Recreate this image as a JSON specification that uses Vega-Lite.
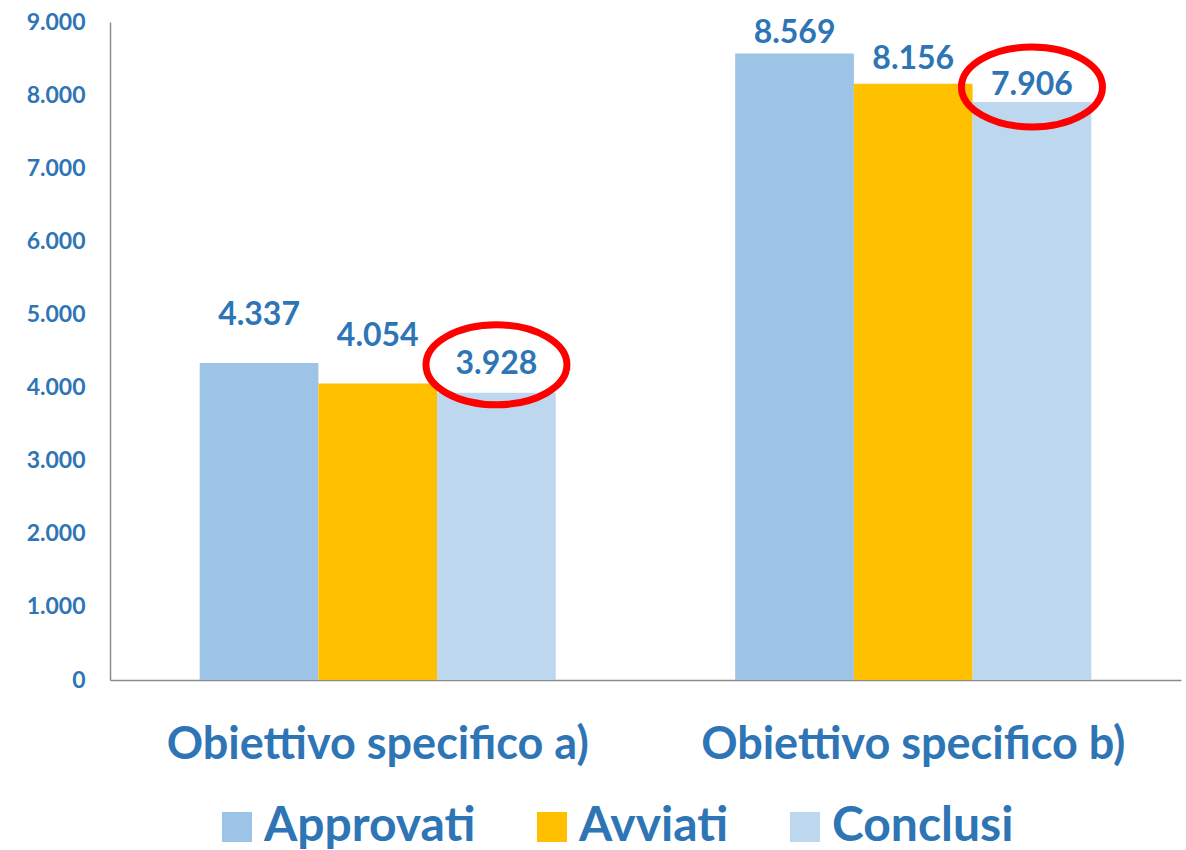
{
  "$schema": "https://vega.github.io/schema/vega-lite/v6.json",
  "autosize": "none",
  "padding": {"left": 110, "top": 22, "right": 5, "bottom": 170},
  "width": 1071,
  "height": 658,
  "background": "white",
  "config": {
    "view": {"stroke": null},
    "font": "Lato"
  },
  "data": {
    "values": [
      {"group": "Obiettivo specifico a)", "series": "Approvati", "value": 4337, "label": "4.337"},
      {"group": "Obiettivo specifico a)", "series": "Avviati", "value": 4054, "label": "4.054"},
      {"group": "Obiettivo specifico a)", "series": "Conclusi", "value": 3928, "label": "3.928"},
      {"group": "Obiettivo specifico b)", "series": "Approvati", "value": 8569, "label": "8.569"},
      {"group": "Obiettivo specifico b)", "series": "Avviati", "value": 8156, "label": "8.156"},
      {"group": "Obiettivo specifico b)", "series": "Conclusi", "value": 7906, "label": "7.906"}
    ]
  },
  "encoding": {
    "x": {
      "field": "group",
      "type": "nominal",
      "sort": null,
      "scale": {"paddingInner": 0.335, "paddingOuter": 0.1675},
      "axis": {
        "title": null,
        "labelAngle": 0,
        "ticks": false,
        "labelPadding": 42,
        "labelFont": "Lato",
        "labelFontWeight": "bold",
        "labelFontSize": 45,
        "labelColor": "#2E75B6",
        "labelLimit": 600,
        "domainColor": "#8C8C8C",
        "domainWidth": 1.5
      }
    },
    "xOffset": {
      "field": "series",
      "type": "nominal",
      "sort": ["Approvati", "Avviati", "Conclusi"],
      "scale": {"paddingInner": 0, "paddingOuter": 0}
    },
    "y": {
      "field": "value",
      "type": "quantitative",
      "scale": {"domain": [0, 9000], "nice": false},
      "axis": {
        "title": null,
        "values": [0, 1000, 2000, 3000, 4000, 5000, 6000, 7000, 8000, 9000],
        "labelExpr": "replace(format(datum.value, ','), ',', '.')",
        "grid": false,
        "ticks": false,
        "labelPadding": 25,
        "labelFont": "Lato",
        "labelFontWeight": "bold",
        "labelFontSize": 23,
        "labelColor": "#2E75B6",
        "domainColor": "#8C8C8C",
        "domainWidth": 1.5
      }
    }
  },
  "layer": [
    {
      "mark": {"type": "bar"},
      "encoding": {
        "color": {
          "field": "series",
          "type": "nominal",
          "sort": ["Approvati", "Avviati", "Conclusi"],
          "scale": {"domain": ["Approvati", "Avviati", "Conclusi"], "range": ["#9DC3E6", "#FFC000", "#BDD7EE"]},
          "legend": {
            "title": null,
            "orient": "none",
            "direction": "horizontal",
            "legendX": 103,
            "legendY": 781,
            "padding": 0,
            "symbolType": "square",
            "symbolSize": 900,
            "symbolStrokeWidth": 0,
            "symbolOpacity": 1,
            "labelFont": "Lato",
            "labelFontWeight": "bold",
            "labelFontSize": 48,
            "labelColor": "#2E75B6",
            "labelOffset": 3,
            "labelLimit": 400,
            "columnPadding": 52
          }
        }
      }
    },
    {
      "mark": {
        "type": "text",
        "font": "Lato",
        "fontWeight": "bold",
        "fontSize": 32,
        "color": "#2E75B6",
        "baseline": "middle",
        "align": "center",
        "dy": {"expr": "datum.group == 'Obiettivo specifico a)' ? (datum.series == 'Conclusi' ? -29 : -48) : (datum.series == 'Approvati' ? -21 : (datum.series == 'Avviati' ? -25 : -17))"}
      },
      "encoding": {
        "text": {"field": "label"}
      }
    },
    {
      "transform": [{"filter": "datum.series == 'Conclusi'"}],
      "mark": {
        "type": "point",
        "shape": "M -1 0 A 1 0.567 0 1 0 1 0 A 1 0.567 0 1 0 -1 0 Z",
        "size": 19881,
        "filled": false,
        "stroke": "#FF0000",
        "strokeWidth": 7,
        "opacity": 1,
        "xOffset": 6,
        "yOffset": {"expr": "datum.group == 'Obiettivo specifico a)' ? -28 : -15"}
      }
    }
  ]
}
